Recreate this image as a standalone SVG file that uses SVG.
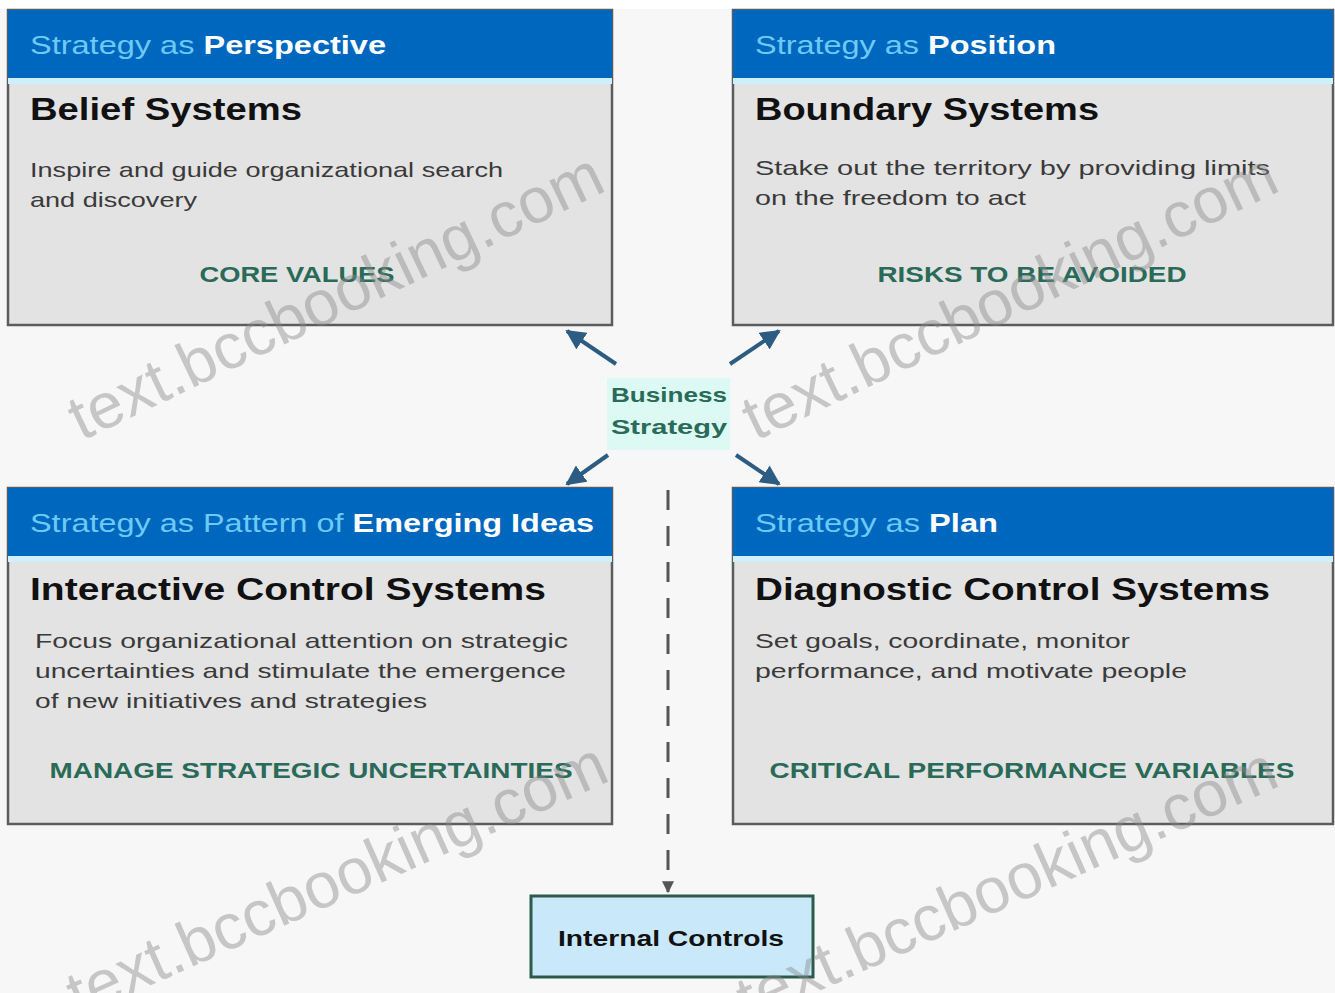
<svg xmlns="http://www.w3.org/2000/svg" width="1335" height="993" viewBox="0 0 1335 993">
<defs>
<style>
.bg{fill:#f7f7f7}
.panel{fill:#e3e3e3;stroke:#5c5c5c;stroke-width:2.5}
.hdr{fill:#0067bf}
.strip{fill:#cfeffd}
.h{font-family:"Liberation Sans",Arial,sans-serif;font-size:26px;fill:#6ccaf5}
.hb{font-weight:bold;fill:#ffffff}
.t{font-family:"Liberation Sans",Arial,sans-serif;font-size:32px;font-weight:bold;fill:#111111}
.d{font-family:"Liberation Sans",Arial,sans-serif;font-size:21px;fill:#3a3a3a}
.f{font-family:"Liberation Sans",Arial,sans-serif;font-size:22px;font-weight:bold;fill:#2a6a58;text-anchor:middle}
.bs{font-family:"Liberation Sans",Arial,sans-serif;font-size:21px;font-weight:bold;fill:#2a6a58}
.ic{font-family:"Liberation Sans",Arial,sans-serif;font-size:22px;font-weight:bold;fill:#111111;text-anchor:middle}
.arr{stroke:#2d5c82;stroke-width:4;fill:none;marker-end:url(#ah)}
.dash{stroke:#555555;stroke-width:3;fill:none;stroke-dasharray:20 16}
.wm{font-family:"Liberation Sans",Arial,sans-serif;font-size:64px;fill:#8a8a8a;fill-opacity:0.45;text-anchor:end}
</style>
<marker id="ah" viewBox="0 0 10 10" refX="9" refY="5" markerWidth="5" markerHeight="5" orient="auto" markerUnits="strokeWidth">
<path d="M0,0 L10,5 L0,10 z" fill="#2d5c82"/>
</marker>
<marker id="ah2" viewBox="0 0 10 10" refX="9" refY="5" markerWidth="4" markerHeight="4" orient="auto" markerUnits="strokeWidth">
<path d="M0,0 L10,5 L0,10 z" fill="#555555"/>
</marker>
</defs>
<rect class="bg" x="0" y="0" width="1335" height="993"/>
<rect x="0" y="0" width="1335" height="9" fill="#ffffff"/>

<g id="perspective">
<rect class="panel" x="8" y="10" width="604" height="315"/>
<rect class="hdr" x="8" y="10" width="604" height="68"/>
<rect class="strip" x="8" y="78" width="604" height="6"/>
<text class="h" x="30" y="54" textLength="356" lengthAdjust="spacingAndGlyphs">Strategy as <tspan class="hb">Perspective</tspan></text>
<text class="t" x="30" y="120" textLength="272" lengthAdjust="spacingAndGlyphs">Belief Systems</text>
<text class="d" x="30" y="177" textLength="473" lengthAdjust="spacingAndGlyphs">Inspire and guide organizational search</text>
<text class="d" x="30" y="207" textLength="167" lengthAdjust="spacingAndGlyphs">and discovery</text>
<text class="f" x="297" y="282" textLength="195" lengthAdjust="spacingAndGlyphs">CORE VALUES</text>
</g>

<g id="position">
<rect class="panel" x="733" y="10" width="600" height="315"/>
<rect class="hdr" x="733" y="10" width="600" height="68"/>
<rect class="strip" x="733" y="78" width="600" height="6"/>
<text class="h" x="755" y="54" textLength="301" lengthAdjust="spacingAndGlyphs">Strategy as <tspan class="hb">Position</tspan></text>
<text class="t" x="755" y="120" textLength="344" lengthAdjust="spacingAndGlyphs">Boundary Systems</text>
<text class="d" x="755" y="175" textLength="515" lengthAdjust="spacingAndGlyphs">Stake out the territory by providing limits</text>
<text class="d" x="755" y="205" textLength="271" lengthAdjust="spacingAndGlyphs">on the freedom to act</text>
<text class="f" x="1032" y="282" textLength="309" lengthAdjust="spacingAndGlyphs">RISKS TO BE AVOIDED</text>
</g>

<g id="emerging">
<rect class="panel" x="8" y="488" width="604" height="336"/>
<rect class="hdr" x="8" y="488" width="604" height="68"/>
<rect class="strip" x="8" y="556" width="604" height="6"/>
<text class="h" x="30" y="532" textLength="564" lengthAdjust="spacingAndGlyphs">Strategy as Pattern of <tspan class="hb">Emerging Ideas</tspan></text>
<text class="t" x="30" y="600" textLength="516" lengthAdjust="spacingAndGlyphs">Interactive Control Systems</text>
<text class="d" x="35" y="648" textLength="533" lengthAdjust="spacingAndGlyphs">Focus organizational attention on strategic</text>
<text class="d" x="35" y="678" textLength="531" lengthAdjust="spacingAndGlyphs">uncertainties and stimulate the emergence</text>
<text class="d" x="35" y="708" textLength="392" lengthAdjust="spacingAndGlyphs">of new initiatives and strategies</text>
<text class="f" x="311" y="778" textLength="523" lengthAdjust="spacingAndGlyphs">MANAGE STRATEGIC UNCERTAINTIES</text>
</g>

<g id="plan">
<rect class="panel" x="733" y="488" width="600" height="336"/>
<rect class="hdr" x="733" y="488" width="600" height="68"/>
<rect class="strip" x="733" y="556" width="600" height="6"/>
<text class="h" x="755" y="532" textLength="243" lengthAdjust="spacingAndGlyphs">Strategy as <tspan class="hb">Plan</tspan></text>
<text class="t" x="755" y="600" textLength="515" lengthAdjust="spacingAndGlyphs">Diagnostic Control Systems</text>
<text class="d" x="755" y="648" textLength="375" lengthAdjust="spacingAndGlyphs">Set goals, coordinate, monitor</text>
<text class="d" x="755" y="678" textLength="432" lengthAdjust="spacingAndGlyphs">performance, and motivate people</text>
<text class="f" x="1032" y="778" textLength="525" lengthAdjust="spacingAndGlyphs">CRITICAL PERFORMANCE VARIABLES</text>
</g>

<g id="business-strategy">
<rect x="607" y="378" width="123" height="72" fill="#dcfaf3"/>
<text class="bs" x="611" y="402" textLength="116" lengthAdjust="spacingAndGlyphs">Business</text>
<text class="bs" x="611" y="434" textLength="116" lengthAdjust="spacingAndGlyphs">Strategy</text>
</g>

<g id="internal-controls">
<rect x="531" y="896" width="282" height="81" fill="#c9e9fb" stroke="#2d5a4c" stroke-width="3"/>
<text class="ic" x="671" y="946" textLength="226" lengthAdjust="spacingAndGlyphs">Internal Controls</text>
</g>

<g id="connectors">
<line class="arr" x1="616" y1="364" x2="567" y2="331"/>
<line class="arr" x1="730" y1="364" x2="779" y2="331"/>
<line class="arr" x1="608" y1="455" x2="567" y2="484"/>
<line class="arr" x1="736" y1="455" x2="779" y2="484"/>
<line class="dash" x1="668" y1="490" x2="668" y2="892" marker-end="url(#ah2)"/>
</g>

<g id="watermarks">
<text class="wm" transform="translate(608,190) rotate(-25.5)">text.bccbooking.com</text>
<text class="wm" transform="translate(1282,190) rotate(-25.5)">text.bccbooking.com</text>
<text class="wm" transform="translate(612,780) rotate(-24)">text.bccbooking.com</text>
<text class="wm" transform="translate(1282,785) rotate(-24)">text.bccbooking.com</text>
</g>
</svg>
